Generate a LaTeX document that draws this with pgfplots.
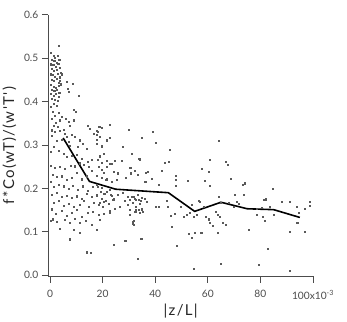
\documentclass[border=0pt]{standalone}
\usepackage{fontspec}
\setmainfont{Lato}
\newfontfamily\labelfont[LetterSpace=9]{Lato}
\usepackage{pgfplots}
\usepackage{pgfplotstable}
\pgfplotsset{compat=1.18}
\usetikzlibrary{calc}

% individual samples
\pgfplotstableread{
x y
3.4 0.529
0.3 0.512
1.3 0.506
1.9 0.501
2.8 0.505
0.6 0.497
1.6 0.494
2.6 0.490
3.5 0.496
0.2 0.486
1.2 0.484
2.3 0.480
3.1 0.488
0.7 0.476
1.5 0.471
2.5 0.473
3.6 0.477
4.1 0.467
0.3 0.463
1.0 0.461
1.9 0.457
2.8 0.465
3.8 0.456
0.6 0.451
1.5 0.447
2.4 0.452
3.3 0.444
0.4 0.438
1.3 0.434
2.2 0.432
3.2 0.437
4.1 0.440
0.6 0.428
1.6 0.424
2.5 0.428
3.5 0.421
0.3 0.418
1.4 0.414
2.3 0.417
3.3 0.411
0.8 0.407
1.9 0.405
2.9 0.402
3.8 0.449
4.5 0.463
6.3 0.446
6.6 0.429
8.6 0.442
7.0 0.423
10.8 0.414
1.3 0.396
0.3 0.388
2.5 0.391
1.0 0.376
1.9 0.368
3.2 0.374
0.6 0.361
2.3 0.352
3.8 0.357
1.3 0.345
2.8 0.342
0.6 0.334
1.9 0.330
3.8 0.332
5.1 0.336
4.4 0.365
6.1 0.361
7.0 0.353
8.9 0.381
9.6 0.376
9.1 0.357
7.6 0.344
5.7 0.326
6.3 0.319
8.2 0.324
9.5 0.318
11.4 0.311
10.4 0.295
12.4 0.303
7.0 0.307
7.6 0.298
4.4 0.313
2.5 0.309
0.6 0.321
1.3 0.295
0.1 0.284
3.2 0.286
5.1 0.280
6.3 0.272
8.2 0.275
10.1 0.277
12.0 0.269
13.9 0.292
15.2 0.338
14.2 0.344
16.5 0.326
17.7 0.332
19.0 0.319
17.7 0.303
19.6 0.297
21.5 0.311
22.8 0.317
20.3 0.280
18.8 0.274
15.8 0.265
14.2 0.261
12.7 0.255
14.6 0.249
11.2 0.258
9.5 0.251
7.9 0.253
5.7 0.246
3.8 0.250
1.9 0.248
0.3 0.252
1.0 0.232
2.5 0.226
4.4 0.228
6.3 0.219
8.2 0.225
10.1 0.236
12.0 0.221
13.9 0.228
15.8 0.240
17.7 0.230
19.6 0.242
21.5 0.249
23.4 0.257
24.7 0.263
0.3 0.215
1.3 0.203
3.2 0.209
5.1 0.205
7.0 0.199
8.6 0.207
10.4 0.196
12.4 0.205
14.2 0.194
16.2 0.203
17.7 0.209
19.6 0.202
21.5 0.221
23.4 0.215
25.3 0.219
0.6 0.186
2.5 0.190
4.4 0.180
6.3 0.184
8.2 0.178
10.1 0.182
12.0 0.176
13.9 0.188
15.8 0.181
17.7 0.186
19.6 0.176
21.5 0.192
23.4 0.184
1.3 0.167
3.2 0.171
5.1 0.161
7.0 0.165
8.9 0.157
11.2 0.163
12.7 0.171
14.6 0.157
16.5 0.167
18.4 0.163
20.3 0.169
22.2 0.165
24.1 0.175
0.6 0.152
2.3 0.142
4.4 0.148
6.3 0.138
8.2 0.144
10.1 0.150
12.0 0.134
14.2 0.144
16.2 0.146
18.4 0.140
20.3 0.142
22.8 0.148
1.0 0.129
2.5 0.123
5.7 0.127
7.6 0.121
9.5 0.130
11.4 0.120
13.7 0.125
15.8 0.117
19.0 0.127
0.3 0.125
3.8 0.108
8.9 0.105
11.4 0.097
17.7 0.104
24.1 0.070
7.4 0.083
13.9 0.053
15.5 0.051
18.1 0.204
19.4 0.193
20.6 0.187
22.6 0.197
23.2 0.185
17.9 0.183
19.8 0.177
21.3 0.172
23.8 0.174
25.7 0.185
27.6 0.189
29.5 0.181
28.3 0.172
30.2 0.174
32.1 0.177
33.3 0.185
34.6 0.172
35.9 0.177
31.4 0.166
29.5 0.162
26.4 0.158
24.5 0.154
22.6 0.144
20.0 0.158
19.0 0.166
32.7 0.150
34.0 0.143
35.2 0.147
31.4 0.124
31.7 0.116
34.6 0.085
28.6 0.079
33.3 0.037
22.8 0.346
18.7 0.341
19.8 0.339
18.1 0.331
17.9 0.323
17.9 0.313
21.6 0.310
29.9 0.335
27.6 0.295
31.2 0.279
34.0 0.267
27.4 0.264
18.1 0.267
19.8 0.259
21.6 0.263
22.8 0.256
18.5 0.250
20.3 0.236
24.1 0.239
25.7 0.235
30.4 0.247
32.1 0.240
33.3 0.231
36.2 0.216
19.8 0.224
21.3 0.220
28.9 0.224
30.8 0.235
39.0 0.331
35.0 0.317
40.2 0.306
45.4 0.290
31.1 0.279
64.0 0.310
33.9 0.268
43.6 0.260
45.3 0.262
30.7 0.248
32.2 0.241
36.5 0.236
37.1 0.239
38.7 0.222
41.2 0.208
42.6 0.240
47.8 0.230
47.8 0.219
47.8 0.207
52.5 0.217
60.7 0.266
66.7 0.261
67.7 0.255
57.7 0.246
60.5 0.238
58.9 0.217
60.6 0.207
68.6 0.222
73.1 0.209
73.9 0.212
31.1 0.181
31.7 0.180
32.5 0.173
33.7 0.173
35.0 0.179
34.2 0.164
32.7 0.158
33.7 0.150
34.9 0.152
30.4 0.150
30.4 0.139
32.4 0.147
31.7 0.126
31.4 0.118
36.8 0.170
40.3 0.157
41.2 0.158
44.6 0.158
44.4 0.172
49.8 0.157
45.9 0.137
47.4 0.141
50.7 0.135
52.0 0.139
53.2 0.143
54.5 0.135
53.9 0.162
56.5 0.172
57.0 0.170
55.8 0.139
58.3 0.157
59.2 0.134
60.8 0.120
61.7 0.114
63.1 0.147
63.6 0.139
64.6 0.135
65.6 0.121
66.8 0.116
63.6 0.097
64.3 0.180
64.9 0.167
67.8 0.166
70.3 0.185
71.0 0.170
71.6 0.164
69.7 0.158
73.8 0.186
78.6 0.154
78.6 0.139
80.5 0.156
81.4 0.174
81.9 0.175
80.9 0.135
81.7 0.126
83.7 0.158
84.7 0.200
84.9 0.139
88.2 0.169
91.2 0.170
91.0 0.101
93.8 0.157
94.4 0.143
94.0 0.121
97.0 0.154
98.9 0.169
98.9 0.160
96.7 0.100
46.3 0.111
48.2 0.068
52.7 0.095
53.9 0.087
55.0 0.098
57.5 0.097
60.2 0.129
75.7 0.104
82.8 0.060
34.9 0.085
54.5 0.015
65.0 0.026
79.3 0.024
91.0 0.011
}\samples

% bin averages
\pgfplotstableread{
x y
5  0.316
15 0.216
25 0.198
35 0.194
45 0.190
55 0.147
65 0.168
75 0.153
85 0.151
95 0.133
}\binmeans

\begin{document}
\begin{tikzpicture}
\begin{axis}[
  scale only axis,
  width=264.7pt, height=261.8pt,
  xmin=-0.65, xmax=100, ymin=-0.003, ymax=0.6,
  axis x line*=bottom, axis y line*=left,
  axis line style={line width=0.8pt, black!70},
  xtick={0,20,40,60,80,100},
  xticklabels={0,20,40,60,80,100x10\textsuperscript{-3}},
  ytick={0,0.1,0.2,0.3,0.4,0.5,0.6},
  yticklabel style={/pgf/number format/.cd, fixed, fixed zerofill, precision=1},
  xticklabel style={yshift=-4pt},
  /pgf/number format/assume math mode=true,
  tick align=outside, major tick length=6.5pt,
  tick style={line width=0.8pt, black!70},
  ticklabel style={font=\fontsize{10.2}{12}\selectfont, text=black!70},
  xlabel={|z/L|}, ylabel={f*Co(wT)/(w'T')},
  every axis y label/.style={at={(axis description cs:0,0.5)}, xshift=-39pt, rotate=90, anchor=center,
    font=\labelfont\fontsize{15}{17}\selectfont, text=black!85},
  every axis x label/.style={at={(axis description cs:0.5,0)}, anchor=center, yshift=-35pt,
    font=\labelfont\fontsize{15}{17}\selectfont, text=black!85},
  clip=false,
]
\addplot[only marks, mark=square*, mark size=0.55pt, black!65] table {\samples};
\addplot[line width=1.6pt, black, line join=round] table {\binmeans};
\end{axis}
\pgfresetboundingbox
\path ($(current axis.south west)+(-48.3pt,-45.5pt)$) rectangle ($(current axis.north east)+(34pt,14.7pt)$);
\end{tikzpicture}
\end{document}
